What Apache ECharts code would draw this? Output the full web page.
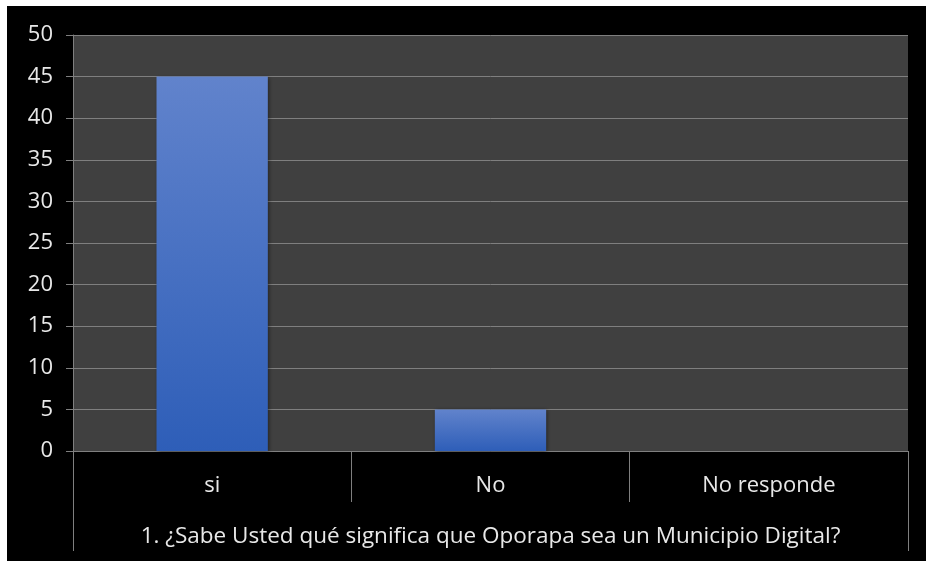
<!DOCTYPE html>
<html>
<head>
<meta charset="utf-8">
<script src="https://cdn.jsdelivr.net/npm/echarts@6/dist/echarts.min.js"></script>
<style>
    html, body {margin: 0; padding: 0; background: #ffffff;}
    #chart {position: absolute; left: 7px; top: 6px; width: 919px; height: 555px;}
</style>
</head>
<body>
<div id="chart"></div>
<script>
// datos de la encuesta
let categorias = ['si', 'No', 'No responde'];
let valores = [45, 5, 0];
let pregunta = ['1. ¿Sabe Usted qué significa que Oporapa sea un Municipio Digital?'];

let myChart = echarts.init(document.getElementById('chart'));
let fuente = '"Open Sans", "Liberation Sans", sans-serif';
let gris = '#7f7f7f';
let texto = '#e8e8e8';

myChart.setOption({
    backgroundColor: '#000000',
    animation: false,
    grid: {
        left: 66,
        right: 18,
        top: 29,
        bottom: 110,
        show: true,
        backgroundColor: '#404040',
        borderWidth: 0
    },
    xAxis: [
        {
            type: 'category',
            data: categorias,
            position: 'bottom',
            axisLine: {lineStyle: {color: gris, width: 1}},
            axisTick: {show: true, interval: 0, length: 51, lineStyle: {color: gris}},
            axisLabel: {color: texto, fontSize: 22, fontFamily: fuente, margin: 24, interval: 0},
            splitLine: {show: false}
        },
        {
            type: 'category',
            data: pregunta,
            position: 'bottom',
            axisLine: {show: false},
            axisTick: {show: true, length: 100, lineStyle: {color: gris}},
            axisLabel: {color: texto, fontSize: 22.5, fontFamily: fuente, margin: 74},
            splitLine: {show: false}
        }
    ],
    yAxis: {
        type: 'value',
        min: 0,
        max: 50,
        interval: 5,
        axisLine: {show: true, lineStyle: {color: gris}},
        axisTick: {show: true, length: 7, lineStyle: {color: gris}},
        axisLabel: {color: texto, fontSize: 22, fontFamily: fuente, margin: 20},
        splitLine: {lineStyle: {color: gris, width: 1}}
    },
    series: [
        {
            type: 'bar',
            xAxisIndex: 0,
            data: valores,
            barWidth: '40%',
            itemStyle: {
                color: new echarts.graphic.LinearGradient(0, 0, 0, 1, [
                    {offset: 0, color: '#6183cc'},
                    {offset: 1, color: '#2e5eb8'}
                ]),
                shadowColor: 'rgba(0,0,0,0.45)',
                shadowBlur: 4,
                shadowOffsetX: 1,
                shadowOffsetY: 1
            }
        }
    ]
});
</script>
</body>
</html>
